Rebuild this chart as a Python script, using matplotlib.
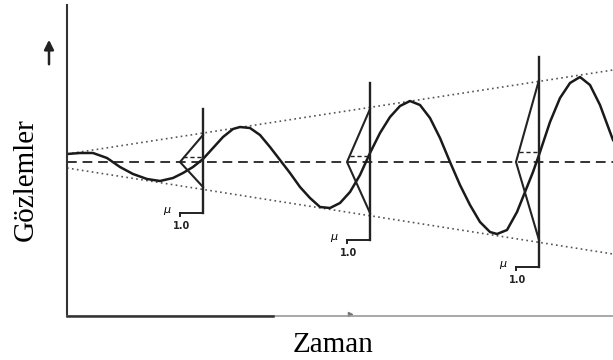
import matplotlib
matplotlib.use('Agg')
import matplotlib.pyplot as plt

time = [0, 13, 26, 40, 53, 66, 80, 93, 106, 116, 126, 136, 146, 156, 166, 173, 183,
        193, 203, 213, 223, 233, 243, 253, 263, 273, 283, 293, 303, 313, 323, 333,
        343, 353, 363, 373, 383, 393, 403, 413, 423, 430, 440, 450, 458, 466, 473,
        483, 493, 503, 513, 523, 533, 543, 546]
obs = [8, 9, 9, 4, -5, -12, -17, -19, -16, -11, -5, 3, 14, 25, 33, 35, 34,
       27, 15, 2, -11, -25, -36, -45, -46, -41, -30, -13, 9, 29, 45, 56,
       61, 57, 44, 24, 0, -23, -43, -60, -70, -72, -68, -50, -30, -10, 10,
       40, 64, 79, 85, 77, 57, 30, 22]

# Uncertainty cone (dotted lines)
cone_time = [0, 546]
cone_upper = [8, 92]
cone_lower = [-6, -92]

# Membership functions at three time points
mf_time = [136, 303, 472]
mf_apex = [113, 280, 449]
mf_top = [27, 53, 82]
mf_bottom = [-25, -51, -78]
mf_line_top = [53, 79, 105]
mf_line_bottom = [-51, -78, -105]
mf_level = [5, 6, 10]

fig = plt.figure(figsize=(6.13, 3.6), dpi=100)
ax = fig.add_axes([67 / 613, 44 / 360, 546 / 613, 311 / 360])
ax.set_xlim(0, 546)
ax.set_ylim(-154, 157)
ax.set_xticks([])
ax.set_yticks([])
for s in ['top', 'right']:
    ax.spines[s].set_visible(False)
ax.spines['left'].set_color('#333333')
ax.spines['left'].set_linewidth(1.5)
ax.spines['bottom'].set_color('#999999')
ax.spines['bottom'].set_linewidth(1.2)
ax.plot([0, 206], [-154, -154], color='#333333', lw=1.8, clip_on=False, zorder=5)
ax.plot([283], [-152], marker='>', ms=3, color='#777777', clip_on=False)

# center line and cone
ax.axhline(0, color='#333333', lw=1.4, ls=(0, (5, 3)))
ax.plot(cone_time, cone_upper, color='#555555', lw=1.2, ls=(0, (1, 2)))
ax.plot(cone_time, cone_lower, color='#555555', lw=1.2, ls=(0, (1, 2)))

# signal
ax.plot(time, obs, color='#1a1a1a', lw=1.8, solid_joinstyle='round')

# membership functions
for i in range(len(mf_time)):
    v = mf_time[i]
    a = mf_apex[i]
    ax.plot([v, v], [mf_line_bottom[i], mf_line_top[i]], color='#222222', lw=1.7)
    ax.plot([v, a, v], [mf_top[i], 0, mf_bottom[i]], color='#222222', lw=1.5)
    ax.plot([a + 3, v], [mf_level[i], mf_level[i]], color='#222222', lw=1.0, ls=(0, (3, 2)))
    ax.plot([a, v], [mf_line_bottom[i], mf_line_bottom[i]], color='#222222', lw=1.4)
    ax.plot([a, a], [mf_line_bottom[i], mf_line_bottom[i] - 3], color='#222222', lw=1.4)
    ax.text(a - 13, mf_line_bottom[i] + 2, r'$\mu$', fontsize=8, ha='center', va='center')
    ax.text(a + 2, mf_line_bottom[i] - 13, '1.0', fontsize=7, ha='center', va='center',
            family='DejaVu Sans', fontweight='bold', color='#222222')

# axis labels and arrow
fig.text(26 / 613, 180 / 360, 'Gözlemler', rotation=90, ha='center', va='center',
         family='Liberation Serif', fontsize=21)
fig.text(333 / 613, 8 / 360, 'Zaman', ha='center', va='baseline',
         family='Liberation Serif', fontsize=21)
ax.annotate('', xy=(49, 323), xytext=(49, 293), xycoords='figure pixels',
            textcoords='figure pixels',
            arrowprops=dict(arrowstyle='-|>', color='#222222', lw=1.8, mutation_scale=14))

fig.savefig('out.png', dpi=100)
